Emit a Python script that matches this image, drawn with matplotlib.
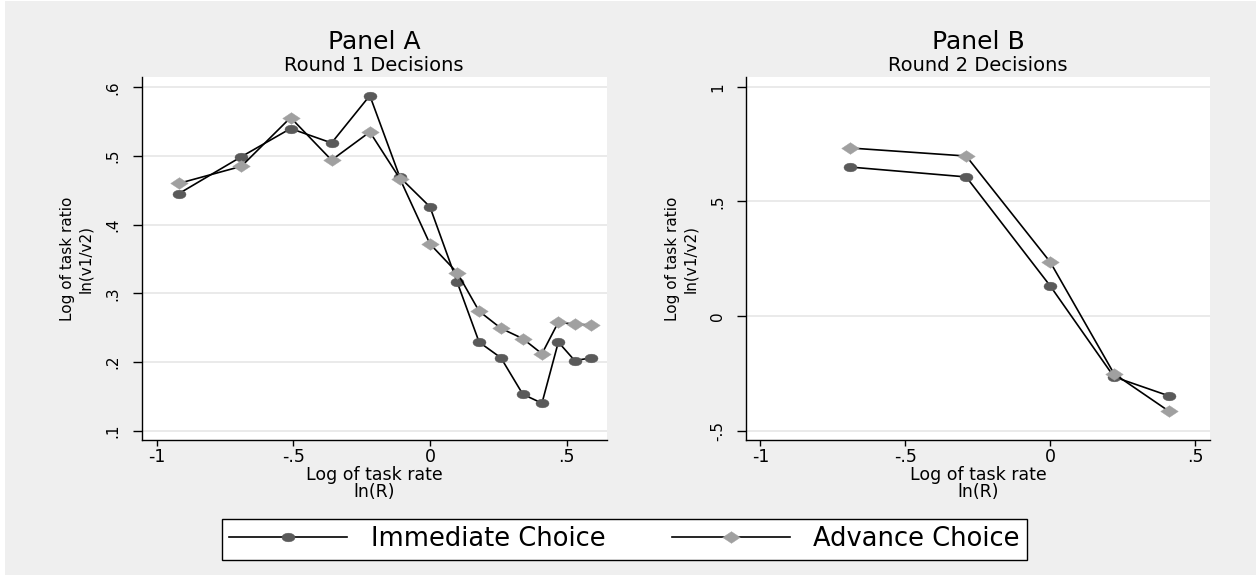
import matplotlib

matplotlib.use("Agg")
import matplotlib.pyplot as plt
import numpy as np
from matplotlib.path import Path
from matplotlib.patches import Rectangle

# ---- data ------------------------------------------------------------------
# Panel A: round 1 decisions (x = log of task rate)
rate_a = [-0.92, -0.69, -0.51, -0.36, -0.22, -0.11, 0.0, 0.10, 0.18, 0.26,
          0.34, 0.41, 0.47, 0.53, 0.59]
immediate_a = [0.445, 0.499, 0.540, 0.519, 0.588, 0.469, 0.426, 0.316, 0.229,
               0.206, 0.153, 0.140, 0.229, 0.202, 0.206]
advance_a = [0.460, 0.485, 0.556, 0.494, 0.535, 0.467, 0.372, 0.330, 0.274,
             0.249, 0.234, 0.212, 0.258, 0.255, 0.254]

# Panel B: round 2 decisions
rate_b = [-0.69, -0.29, 0.0, 0.22, 0.41]
immediate_b = [0.650, 0.607, 0.132, -0.264, -0.347]
advance_b = [0.733, 0.698, 0.236, -0.250, -0.414]

series_labels = ["Immediate Choice", "Advance Choice"]
panel_titles = ["Panel A", "Panel B"]
panel_subtitles = ["Round 1 Decisions", "Round 2 Decisions"]
x_title = "Log of task rate\nln(R)"
y_title = "Log of task ratio\nln(v1/v2)"

x_ticks = [-1, -0.5, 0, 0.5]
x_ticklabels = ["-1", "-.5", "0", ".5"]
y_ticks_a = [0.1, 0.2, 0.3, 0.4, 0.5, 0.6]
y_ticklabels_a = [".1", ".2", ".3", ".4", ".5", ".6"]
y_ticks_b = [-0.5, 0, 0.5, 1]
y_ticklabels_b = ["-.5", "0", ".5", "1"]

# ---- style -----------------------------------------------------------------
BG = "#efefef"
GRID = "#e6e6e6"
DARK = "#5a5a5a"
LIGHT = "#a0a0a0"

# the original was stretched sideways, so markers are wide ellipses/diamonds
_t = np.linspace(0, 2 * np.pi, 41)
ELLIPSE = Path(np.column_stack([1.5 * np.cos(_t), np.sin(_t)]), closed=True)
DIAMOND = Path([(-1.5, 0), (0, 1), (1.5, 0), (0, -1), (-1.5, 0)], closed=True)

W, H = 1256, 575
fig = plt.figure(figsize=(W / 100, H / 100), dpi=100, facecolor="white")
fig.patches.append(Rectangle((5 / W, 0), 1, 1 - 1 / H, transform=fig.transFigure,
                             facecolor=BG, edgecolor="none", zorder=-10))


def px_axes(left, top, right, bottom):
    return fig.add_axes([left / W, 1 - bottom / H, (right - left) / W, (bottom - top) / H])


def draw_panel(ax, x, imm, adv, xlim, ylim, yticks, yticklabels, title, subtitle):
    ax.set_facecolor("white")
    for ticky in yticks:
        ax.axhline(ticky, color=GRID, lw=1.2, zorder=0)
    l1, = ax.plot(x, imm, "-", color="black", lw=1.2, marker=ELLIPSE, ms=9.4,
                  mfc=DARK, mec=DARK, mew=0.3, zorder=2)
    l2, = ax.plot(x, adv, "-", color="black", lw=1.2, marker=DIAMOND, ms=12.6,
                  mfc=LIGHT, mec=LIGHT, mew=0.3, zorder=3)
    ax.set_xlim(*xlim)
    ax.set_ylim(*ylim)
    ax.set_xticks(x_ticks)
    ax.set_xticklabels(x_ticklabels)
    ax.set_yticks(yticks)
    ax.set_yticklabels(yticklabels, rotation=90, va="center")
    ax.tick_params(axis="x", length=4.3, width=1, pad=1.5, labelsize=12.5)
    ax.tick_params(axis="y", length=6.5, width=1, pad=8.5, labelsize=11)
    for side in ("top", "right"):
        ax.spines[side].set_visible(False)
    for side in ("left", "bottom"):
        ax.spines[side].set_linewidth(1.0)
        ax.spines[side].set_color("black")
    ax.set_xlabel(x_title, fontsize=12.5, linespacing=0.95)
    ax.xaxis.set_label_coords(0.5, -0.072)
    ax.set_ylabel(y_title, fontsize=11, linespacing=1.25)
    ax.yaxis.set_label_coords(-0.104, 0.5)
    ax.text(0.5, 1.0772, title, transform=ax.transAxes, ha="center",
            va="baseline", fontsize=18)
    ax.text(0.5, 1.0182, subtitle, transform=ax.transAxes, ha="center",
            va="baseline", fontsize=14)
    return l1, l2


ax_a = px_axes(141.7, 77.3, 606.7, 440)
ax_b = px_axes(746, 77.3, 1210.2, 440)

handles = draw_panel(ax_a, rate_a, immediate_a, advance_a, (-1.055, 0.647),
                     (0.0864, 0.6146), y_ticks_a, y_ticklabels_a,
                     panel_titles[0], panel_subtitles[0])
draw_panel(ax_b, rate_b, immediate_b, advance_b, (-1.05, 0.552),
           (-0.539, 1.041), y_ticks_b, y_ticklabels_b,
           panel_titles[1], panel_subtitles[1])

leg = fig.legend(handles, series_labels, loc="center", ncol=2,
                 bbox_to_anchor=(624.5 / W, 1 - 539.4 / H), fontsize=18.5,
                 frameon=True, fancybox=False, edgecolor="black",
                 facecolor="white", framealpha=1, handlelength=4.6,
                 handletextpad=0.9, columnspacing=2.6, borderpad=0.3,
                 borderaxespad=0)
leg.get_frame().set_linewidth(1.0)

fig.savefig("out.png", dpi=100, facecolor=fig.get_facecolor())
